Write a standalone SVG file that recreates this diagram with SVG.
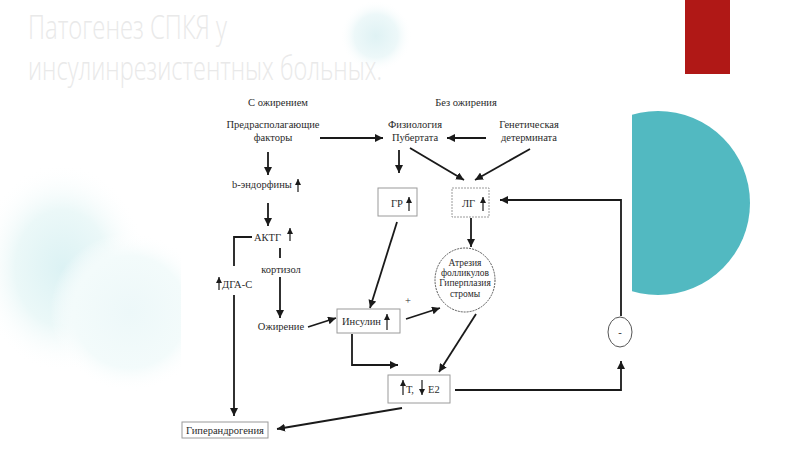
<svg xmlns="http://www.w3.org/2000/svg" width="800" height="450" viewBox="0 0 800 450">
<defs>
  <radialGradient id="glowTop" cx="0.5" cy="0.5" r="0.5">
    <stop offset="0" stop-color="#dff2f4"/>
    <stop offset="0.6" stop-color="#edf8f9"/>
    <stop offset="1" stop-color="#ffffff" stop-opacity="0"/>
  </radialGradient>
  <radialGradient id="glowLeft" cx="0.5" cy="0.5" r="0.5">
    <stop offset="0" stop-color="#dcf2f4"/>
    <stop offset="0.55" stop-color="#ebf8f8"/>
    <stop offset="1" stop-color="#ffffff" stop-opacity="0"/>
  </radialGradient>
  <radialGradient id="glowLeft2" cx="0.5" cy="0.5" r="0.5">
    <stop offset="0" stop-color="#edf8f9"/>
    <stop offset="0.7" stop-color="#f3fbfb"/>
    <stop offset="1" stop-color="#ffffff" stop-opacity="0"/>
  </radialGradient>
  <marker id="arr" viewBox="0 0 10 10" refX="10" refY="5" markerWidth="8" markerHeight="8" markerUnits="userSpaceOnUse" orient="auto">
    <path d="M0,0 L10,5 L0,10 z" fill="#1a1a1a"/>
  </marker>
  <marker id="tiny" viewBox="0 0 10 10" refX="10" refY="5" markerWidth="6" markerHeight="6" markerUnits="userSpaceOnUse" orient="auto">
    <path d="M0,0 L10,5 L0,10 z" fill="#1a1a1a"/>
  </marker>
  <style>
    .title { font-family: "Open Sans", "Liberation Sans", sans-serif; font-weight: 300; font-size: 33px; fill: #e9e9e9; }
    .t { font-family: "Liberation Serif", "DejaVu Serif", serif; font-size: 10.5px; fill: #2a2a2a; }
    .s { font-size: 9.5px; }
    .c { text-anchor: middle; }
    .box { fill: #ffffff; stroke: #9a9a9a; stroke-width: 1; }
    .ell { fill: #ffffff; stroke: #555555; stroke-width: 1; }
    .ln { fill: none; stroke: #1a1a1a; stroke-width: 1.8; }
    .up { fill: none; stroke: #1a1a1a; stroke-width: 1.2; }
  </style>
</defs>

<!-- background decorations -->
<rect x="0" y="0" width="800" height="450" fill="#ffffff"/>
<circle cx="376" cy="36" r="36" fill="url(#glowTop)"/>
<ellipse cx="62" cy="268" rx="85" ry="105" fill="url(#glowLeft)"/>
<circle cx="130" cy="312" r="80" fill="url(#glowLeft2)"/>
<rect x="685" y="0" width="45" height="74" fill="#b01816"/>
<circle cx="658" cy="203" r="92" fill="#52b9c1"/>
<rect x="181" y="90" width="451" height="360" fill="#ffffff"/>

<text class="title" x="28" y="39" textLength="199" lengthAdjust="spacingAndGlyphs">Патогенез СПКЯ у</text>
<text class="title" x="28" y="80" textLength="354" lengthAdjust="spacingAndGlyphs">инсулинрезистентных больных.</text>

<!-- headings -->
<g id="head-left"><text class="t c" x="278" y="106">С ожирением</text></g>
<g id="head-right"><text class="t c" x="466" y="106">Без ожирения</text></g>

<!-- nodes -->
<g id="n-factors">
  <text class="t c" x="273" y="128">Предрасполагающие</text>
  <text class="t c" x="273" y="141">факторы</text>
</g>
<g id="n-puberty">
  <text class="t c" x="415" y="128">Физиология</text>
  <text class="t c" x="415" y="141">Пубертата</text>
</g>
<g id="n-genetic">
  <text class="t c" x="529" y="128">Генетическая</text>
  <text class="t c" x="529" y="141">детермината</text>
</g>
<g id="n-endorphins">
  <text class="t" x="232" y="188">b-эндорфины</text>
  <line class="up" x1="298" y1="192" x2="298" y2="179" marker-end="url(#tiny)"/>
</g>
<g id="n-acth">
  <text class="t" x="254" y="241">АКТГ</text>
  <line class="up" x1="290" y1="241" x2="290" y2="228" marker-end="url(#tiny)"/>
</g>
<g id="n-cortisol">
  <text class="t c" x="281" y="273">кортизол</text>
</g>
<g id="n-dhea">
  <line class="up" x1="219" y1="290" x2="219" y2="277" marker-end="url(#tiny)"/>
  <text class="t" x="222" y="288">ДГА-С</text>
</g>
<g id="n-obesity">
  <text class="t c" x="281" y="330">Ожирение</text>
</g>
<g id="n-gr">
  <rect class="box" x="378" y="188" width="39" height="28"/>
  <text class="t" x="391" y="207">ГР</text>
  <line class="up" x1="409" y1="211" x2="409" y2="197" marker-end="url(#tiny)"/>
</g>
<g id="n-lg">
  <rect class="box" x="452" y="188" width="37" height="29" stroke-dasharray="2,1"/>
  <text class="t" x="462" y="207">ЛГ</text>
  <line class="up" x1="483" y1="211" x2="483" y2="197" marker-end="url(#tiny)"/>
</g>
<g id="n-atresia">
  <ellipse class="ell" cx="465" cy="280" rx="30" ry="32" stroke-dasharray="2,1"/>
  <text class="t s c" x="465" y="266">Атрезия</text>
  <text class="t s c" x="465" y="276">фолликулов</text>
  <text class="t s c" x="465" y="286">Гиперплазия</text>
  <text class="t s c" x="465" y="297">стромы</text>
</g>
<g id="n-insulin">
  <rect class="box" x="337" y="309" width="63" height="24"/>
  <text class="t" x="342" y="325">Инсулин</text>
  <line class="up" x1="387" y1="330" x2="387" y2="314" marker-end="url(#tiny)"/>
</g>
<g id="n-plus"><text class="t c" x="408" y="304" font-size="9">+</text></g>
<g id="n-te2">
  <rect class="box" x="388" y="375" width="62" height="28"/>
  <line class="up" x1="403" y1="395" x2="403" y2="380" marker-end="url(#tiny)"/>
  <text class="t" x="406" y="393">Т,</text>
  <line class="up" x1="422" y1="380" x2="422" y2="395" marker-end="url(#tiny)"/>
  <text class="t" x="428" y="393">Е2</text>
</g>
<g id="n-minus">
  <ellipse class="ell" cx="620" cy="332" rx="12" ry="15"/>
  <text class="t c" x="620" y="336">-</text>
</g>
<g id="n-hyperandrogenia">
  <rect class="box" x="182" y="422" width="86" height="16"/>
  <text class="t c" x="225" y="434">Гиперандрогения</text>
</g>

<!-- connectors -->
<g id="connectors">
  <line class="ln" x1="320" y1="138" x2="383" y2="138" marker-end="url(#arr)"/>
  <line class="ln" x1="486" y1="138" x2="447" y2="138" marker-end="url(#arr)"/>
  <line class="ln" x1="399" y1="150" x2="399" y2="173" marker-end="url(#arr)"/>
  <line class="ln" x1="410" y1="148" x2="464" y2="180" marker-end="url(#arr)"/>
  <line class="ln" x1="530" y1="149" x2="475" y2="180" marker-end="url(#arr)"/>
  <line class="ln" x1="268" y1="152" x2="268" y2="175" marker-end="url(#arr)"/>
  <line class="ln" x1="268" y1="203" x2="268" y2="226" marker-end="url(#arr)"/>
  <path class="ln" d="M252,237 H234 V266"/>
  <path class="ln" d="M234,295 V416" marker-end="url(#arr)"/>
  <line class="ln" x1="280" y1="248" x2="280" y2="258"/>
  <line class="ln" x1="280" y1="277" x2="280" y2="318" marker-end="url(#arr)"/>
  <line class="ln" x1="308" y1="327" x2="336" y2="318" marker-end="url(#arr)"/>
  <line class="ln" x1="397" y1="222" x2="370" y2="308" marker-end="url(#arr)"/>
  <line class="ln" x1="471" y1="218" x2="471" y2="247" marker-end="url(#arr)"/>
  <line class="ln" x1="406" y1="319" x2="440" y2="308" marker-end="url(#arr)"/>
  <path class="ln" d="M352,334 V365 H398" marker-end="url(#arr)"/>
  <line class="ln" x1="476" y1="314" x2="439" y2="372" marker-end="url(#arr)"/>
  <line class="ln" x1="402" y1="408" x2="277" y2="429" marker-end="url(#arr)"/>
  <path class="ln" d="M455,390 H621 V361" marker-end="url(#arr)"/>
  <path class="ln" d="M621,316 V200 H500" marker-end="url(#arr)"/>
</g>
</svg>
